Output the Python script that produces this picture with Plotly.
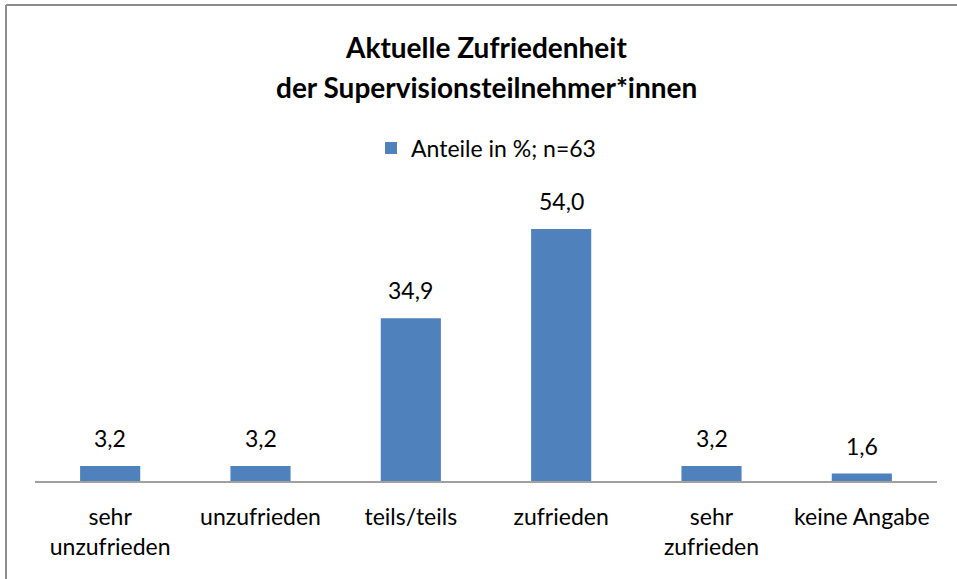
import plotly.graph_objects as go

categories = ["sehr<br>unzufrieden", "unzufrieden", "teils/teils", "zufrieden", "sehr<br>zufrieden", "keine Angabe"]
values = [3.2, 3.2, 34.9, 54.0, 3.2, 1.6]
series_name = "Anteile in %; n=63"
title_lines = ["Aktuelle Zufriedenheit", "der Supervisionsteilnehmer*innen"]

FONT = "Lato, Open Sans, sans-serif"
BLUE = "#4f81bd"

fig = go.Figure()
fig.add_trace(go.Bar(
    x=categories, y=values, name=series_name,
    marker=dict(color=BLUE, line=dict(width=0)),
    width=0.4,
    showlegend=True,
))

# value labels above the bars (Excel style, comma decimal)
for c, v in zip(categories, values):
    fig.add_annotation(
        x=c, y=v, text=("%.1f" % v).replace(".", ","),
        xanchor="center", yanchor="bottom", yshift=12, showarrow=False,
        font=dict(family=FONT, size=23, color="black"),
    )

# two-line title as annotations so the line spacing can match
for i, line in enumerate(title_lines):
    fig.add_annotation(
        text="<b>%s</b>" % line, xref="paper", yref="paper",
        x=0.5, y=1 + (201 - 47 - 40 * i) / 280, xanchor="center", yanchor="middle",
        showarrow=False, font=dict(family=FONT, size=28, color="black"),
    )

# chart border (only top and left edges are inside the picture)
top = 1 + (201 - 5) / 280
left = (6 - 35) / 902
right = (957 - 35) / 902
fig.add_shape(type="line", xref="paper", yref="paper", x0=left, x1=right, y0=top, y1=top,
              line=dict(color="#8c8c8c", width=2), layer="below")
fig.add_shape(type="line", xref="paper", yref="paper", x0=left, x1=left, y0=-98 / 280, y1=top,
              line=dict(color="#8c8c8c", width=2), layer="below")

fig.update_layout(
    width=957, height=579,
    margin=dict(l=35, r=20, t=201, b=98),
    paper_bgcolor="white", plot_bgcolor="white",
    font=dict(family=FONT, size=23, color="black"),
    legend=dict(orientation="h", x=0.5, xanchor="center", y=1 + (201 - 148) / 280, yanchor="middle",
                font=dict(family=FONT, size=23, color="black")),
    xaxis=dict(showline=True, linecolor="#a0a0a0", linewidth=2, ticks="", showgrid=False,
               tickfont=dict(family=FONT, size=23, color="black"), ticklabelstandoff=14),
    yaxis=dict(range=[0, 60], visible=False, showgrid=False, zeroline=False),
    bargap=0.6,
)

fig.write_html("out.html", config={"displayModeBar": False},
               post_script="document.body.style.margin='0';document.body.style.overflow='hidden';")
